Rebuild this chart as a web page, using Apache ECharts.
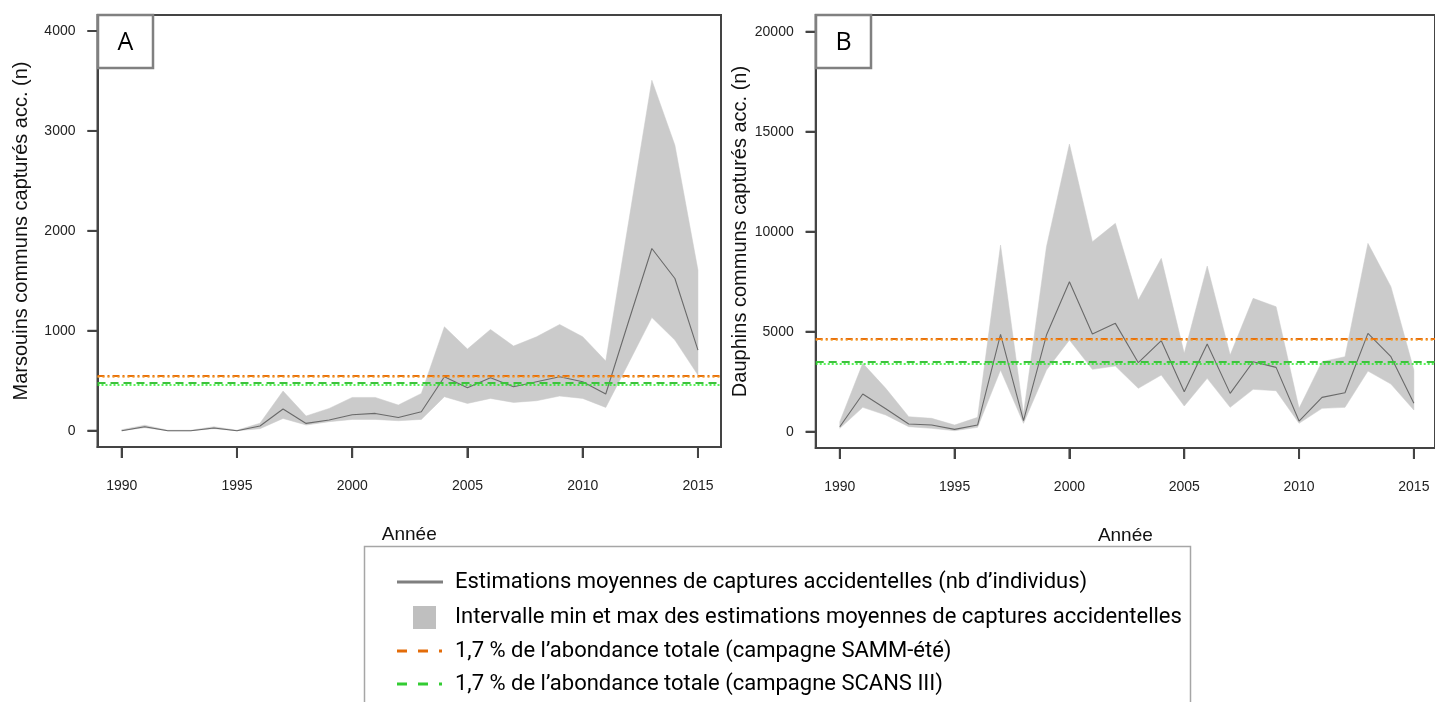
<!DOCTYPE html>
<html>
<head>
<meta charset="utf-8">
<script src="https://cdn.jsdelivr.net/npm/echarts@6/dist/echarts.min.js"></script>
<style>
html,body{margin:0;padding:0;background:#fff;}
#chart{width:1435px;height:702px;}
</style>
</head>
<body>
<div id="chart"></div>
<script>
// ---------- data ----------
const years = [1990,1991,1992,1993,1994,1995,1996,1997,1998,1999,2000,2001,2002,2003,2004,2005,2006,2007,2008,2009,2010,2011,2012,2013,2014,2015];
const xTicks = [1990,1995,2000,2005,2010,2015];
const yTicksA = [0,1000,2000,3000,4000];
const yTicksB = [0,5000,10000,15000,20000];

// Panel A : Marsouins communs
const meanA = [0,40,0,0,27,0,47,217,73,107,160,173,133,190,540,430,530,440,490,540,490,367,1100,1823,1523,807];
const maxA  = [10,55,5,5,40,5,75,397,147,223,333,333,257,373,1040,817,1013,847,940,1063,940,697,2100,3507,2857,1607];
const minA  = [0,30,0,0,20,0,20,123,57,90,113,113,100,113,340,273,323,283,300,347,323,233,680,1133,907,557];
const sammA = [550, 540];   // orange: dash-dot, dotted
const scansA = [480, 455];  // green: dashed, dotted

// Panel B : Dauphins communs
const meanB = [250,1883,1150,383,333,117,333,4867,550,4833,7500,4883,5417,3450,4550,2000,4383,1917,3500,3217,533,1717,1950,4917,3750,1417];
const maxB  = [500,3417,2167,750,667,333,717,9333,900,9250,14383,9500,10417,6583,8667,3917,8283,3833,6667,6250,1167,3500,3750,9417,7250,3083];
const minB  = [167,1217,833,250,167,50,217,3083,417,3083,4583,3117,3283,2167,2833,1283,2667,1217,2117,2050,417,1167,1217,3033,2383,1083];
const sammB = [4660, 4590];
const scansB = [3480, 3410];

const legendTexts = [
  'Estimations moyennes de captures accidentelles (nb d\u2019individus)',
  'Intervalle min et max des estimations moyennes de captures accidentelles',
  '1,7 % de l\u2019abondance totale (campagne SAMM-\u00e9t\u00e9)',
  '1,7 % de l\u2019abondance totale (campagne SCANS III)'
];
const yNameA = 'Marsouins communs captur\u00e9s acc. (n)';
const yNameB = 'Dauphins communs captur\u00e9s acc. (n)';
const xName = 'Ann\u00e9e';

// ---------- axis bounds (plot-box padding as in the original R figure) ----------
const X_MIN = 1988.95, X_MAX = [2016.0, 2015.92];
const Y_MIN = [-163, -815], Y_MAX = [4160, 20835];

// ---------- styles ----------
const AX = '#444';
const BAND = '#cbcbcb';
const MEAN = '#6a6a6a';
const ORANGE = '#e8720c';
const ORANGE2 = '#f5a030';
const GREEN = '#3dc23d';
const GREEN2 = '#22ee22';
const TICKFONT = {fontFamily:'Liberation Sans, Arial, sans-serif', fontSize:14, color:'#222'};

const pairs = (ys) => years.map((y,i)=>[y, ys[i]]);

function xAxisCfg(gi){
  return {
    type:'value', gridIndex:gi, min:X_MIN, max:X_MAX[gi],
    axisLine:{show:true, onZero:false, lineStyle:{color:AX, width:2}},
    axisTick:{show:true, inside:false, length:11, lineStyle:{color:AX, width:2}, customValues:xTicks},
    axisLabel:{show:true, margin:32, customValues:xTicks, formatter:v=>String(v), ...TICKFONT},
    splitLine:{show:false},
    name:xName, nameLocation:'middle', nameGap:78,
    nameTextStyle:{fontFamily:'Liberation Sans, Arial, sans-serif', fontSize:19, color:'#111'}
  };
}
function yAxisCfg(gi, ticks, name){
  return {
    type:'value', gridIndex:gi, min:Y_MIN[gi], max:Y_MAX[gi],
    axisLine:{show:true, onZero:false, lineStyle:{color:AX, width:2}},
    axisTick:{show:true, inside:false, length:10, lineStyle:{color:AX, width:2}, customValues:ticks},
    axisLabel:{show:true, margin:22, customValues:ticks, formatter:v=>String(v), ...TICKFONT},
    splitLine:{show:false},
    name:name, nameLocation:'middle', nameGap: gi===0 ? 66 : 65,
    nameTextStyle:{fontFamily:'Liberation Sans, Arial, sans-serif', fontSize:20, color:'#111'}
  };
}
function refLine(gi, v, color, dash, width){
  return {
    type:'line', xAxisIndex:gi, yAxisIndex:gi, data:[], silent:true, z:4,
    markLine:{symbol:['none','none'], silent:true, animation:false, label:{show:false},
      lineStyle:{color:color, type:dash, width:width}, data:[{yAxis:v}]}
  };
}
function bandSeries(gi, lo, hi){
  return {
    type:'custom', xAxisIndex:gi, yAxisIndex:gi, silent:true, z:2,
    data: years.map((y,i)=>[y, lo[i], hi[i]]),
    encode:{x:0, y:[1,2]},
    renderItem: function(params, api){
      if (params.dataIndex !== 0) return null;
      const top = years.map((y,i)=>api.coord([y, hi[i]]));
      const bot = years.map((y,i)=>api.coord([y, lo[i]])).reverse();
      return {type:'polygon', shape:{points: top.concat(bot)}, style:{fill:BAND, stroke:BAND, lineWidth:0.5}};
    }
  };
}
function meanSeries(gi, m){
  return {type:'line', xAxisIndex:gi, yAxisIndex:gi, data:pairs(m), symbol:'none',
    lineStyle:{color:MEAN, width:1.1}, silent:true, z:3};
}

const chart = echarts.init(document.getElementById('chart'), null, {renderer:'canvas'});

const legendX = 455, rows = [582, 617, 651, 684];
const graphics = [
  {type:'rect', shape:{x:98, y:15, width:55, height:53}, style:{fill:'#fff', stroke:'#808080', lineWidth:2.5}, z:100},
  {type:'text', x:125.5, y:43, style:{text:'A', fontFamily:'Open Sans, sans-serif', fontSize:25, fill:'#000', align:'center', verticalAlign:'middle'}, z:101},
  {type:'rect', shape:{x:816, y:15, width:55, height:53}, style:{fill:'#fff', stroke:'#808080', lineWidth:2.5}, z:100},
  {type:'text', x:843.5, y:43, style:{text:'B', fontFamily:'Open Sans, sans-serif', fontSize:25, fill:'#000', align:'center', verticalAlign:'middle'}, z:101},
  {type:'rect', shape:{x:364.5, y:546.5, width:826, height:200}, style:{fill:'#fff', stroke:'#a6a6a6', lineWidth:1.5}, z:50},
  {type:'line', shape:{x1:397, y1:rows[0], x2:443, y2:rows[0]}, style:{stroke:'#7f7f7f', lineWidth:3}, z:51},
  {type:'rect', shape:{x:413, y:rows[1]-11, width:23, height:23}, style:{fill:'#bfbfbf'}, z:51},
  {type:'line', shape:{x1:397, y1:rows[2], x2:443, y2:rows[2]}, style:{stroke:'#e36c09', lineWidth:3, lineDash:[10,11,10,11,3,20]}, z:51},
  {type:'line', shape:{x1:397, y1:rows[3], x2:443, y2:rows[3]}, style:{stroke:'#33cc33', lineWidth:3, lineDash:[10,11,10,11,3,20]}, z:51}
];
legendTexts.forEach((t,i)=>{
  graphics.push({type:'text', x:legendX, y:rows[i], style:{text:t, fontFamily:'Roboto, sans-serif', fontSize:22, fill:'#000', verticalAlign:'middle'}, z:51});
});

chart.setOption({
  animation:false,
  backgroundColor:'#fff',
  grid:[
    {left:97.5, top:15, width:623.5, height:432, show:true, borderColor:AX, borderWidth:2, backgroundColor:'transparent'},
    {left:815.7, top:15, width:623, height:433, show:true, borderColor:AX, borderWidth:2, backgroundColor:'transparent'}
  ],
  xAxis:[xAxisCfg(0), xAxisCfg(1)],
  yAxis:[yAxisCfg(0, yTicksA, yNameA), yAxisCfg(1, yTicksB, yNameB)],
  series:[
    bandSeries(0, minA, maxA),
    meanSeries(0, meanA),
    refLine(0, sammA[0], ORANGE, [7,3,2,3], 2),
    refLine(0, sammA[1], ORANGE2, [2,3], 1.5),
    refLine(0, scansA[0], GREEN, [8,5], 2),
    refLine(0, scansA[1], GREEN2, [2,2], 1.5),
    bandSeries(1, minB, maxB),
    meanSeries(1, meanB),
    refLine(1, sammB[0], ORANGE, [7,3,2,3], 2),
    refLine(1, sammB[1], ORANGE2, [2,3], 1.5),
    refLine(1, scansB[0], GREEN, [8,5], 2),
    refLine(1, scansB[1], GREEN2, [2,2], 1.5)
  ],
  graphic:{elements:graphics}
});

// outward tick marks, positioned through the axes' own scales
function buildTicks(){
  const els = [];
  [0,1].forEach(gi=>{
    const yT = gi===0 ? yTicksA : yTicksB;
    xTicks.forEach(v=>{
      const p = chart.convertToPixel({gridIndex:gi}, [v, Y_MIN[gi]]);
      if (p && isFinite(p[0]) && isFinite(p[1]))
        els.push({type:'line', shape:{x1:p[0], y1:p[1], x2:p[0], y2:p[1]+11}, style:{stroke:AX, lineWidth:2}, z:60});
    });
    yT.forEach(v=>{
      const p = chart.convertToPixel({gridIndex:gi}, [X_MIN, v]);
      if (p && isFinite(p[0]) && isFinite(p[1]))
        els.push({type:'line', shape:{x1:p[0]-10, y1:p[1], x2:p[0], y2:p[1]}, style:{stroke:AX, lineWidth:2}, z:60});
    });
  });
  return els;
}
chart.setOption({graphic:{elements:graphics.concat(buildTicks())}});
let ticksDone = false;
chart.on('finished', function(){
  if (ticksDone) return;
  ticksDone = true;
  chart.setOption({graphic:{elements:graphics.concat(buildTicks())}});
});
</script>
</body>
</html>
